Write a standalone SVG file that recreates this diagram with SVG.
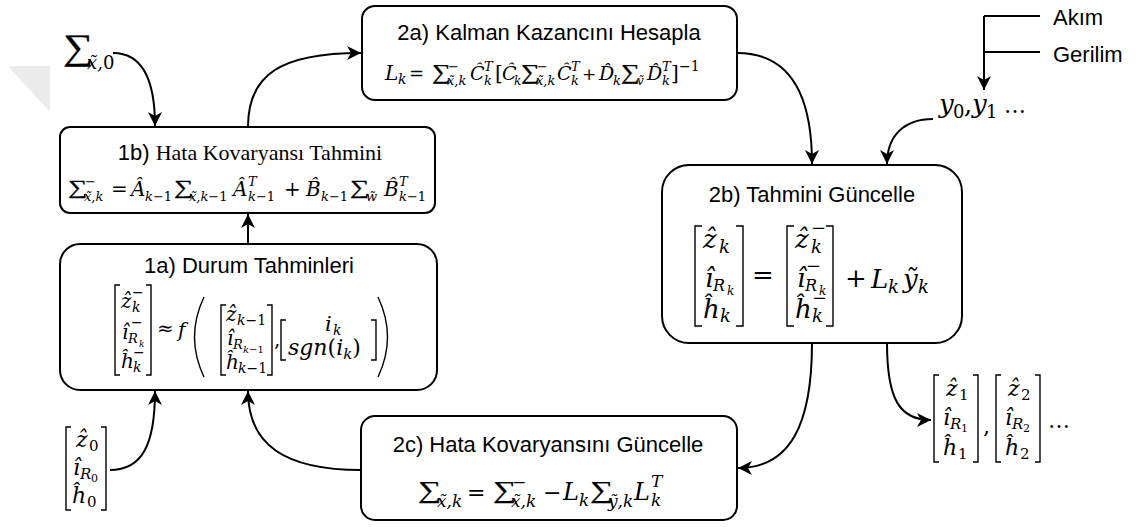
<svg xmlns="http://www.w3.org/2000/svg" width="1141" height="527" viewBox="0 0 1141 527">
<style>
.box{fill:#fff;stroke:#000;stroke-width:2}
.h{font-family:"Liberation Sans",Arial,sans-serif;font-size:22px;fill:#000}
.hs{font-family:"Liberation Serif","Times New Roman",serif}
.m{font-family:"DejaVu Serif",serif;font-style:italic;fill:#000}
.u{font-style:normal}
.sg{font-family:"Liberation Serif",serif;fill:#000;stroke:#000;stroke-width:0.3}
.br{fill:none;stroke:#000;stroke-width:1.4}
.c{fill:none;stroke:#000;stroke-width:2}
.ca{fill:none;stroke:#000;stroke-width:2;marker-end:url(#a)}
</style>
<defs>
<marker id="a" viewBox="-15 -8 16 16" refX="0" refY="0" markerWidth="16" markerHeight="16" markerUnits="userSpaceOnUse" orient="auto"><path d="M0,0 L-14,-7 L-10,0 L-14,7 Z" fill="#000"/></marker>
</defs>
<rect width="1141" height="527" fill="#fff"/>
<polygon points="8,66 50,66 50,112" fill="#ebebeb"/>

<g id="connectors">
<path class="ca" d="M113,53 C142,53 155,80 155,126"/>
<path class="ca" d="M248,127 C248,75 280,53 361,53"/>
<path class="ca" d="M737,53 C790,53 812,95 812,164"/>
<path class="ca" d="M933,119 C905,119 887,135 887,164"/>
<path class="ca" d="M984,16 L984,90"/>
<path class="c" d="M984,16 H1040 M984,52 H1040"/>
<path class="ca" d="M248,244 V214"/>
<path class="ca" d="M110,470 C142,470 155,445 155,391"/>
<path class="ca" d="M361,470 C285,470 248,445 248,391"/>
<path class="ca" d="M812,343 C812,425 790,468 738,468"/>
<path class="ca" d="M887,343 C887,400 900,420 931,420"/>
</g>

<g id="sigma0">
<text class="sg" transform="translate(63,58.5) scale(1.18,1)" font-size="36">∑</text>
<text class="m" x="87" y="69" font-size="18">x̃,<tspan class="u">0</tspan></text>
</g>

<g id="node1b">
<rect class="box" x="60" y="127" width="375" height="86" rx="10"/>
<text class="h" x="250" y="160" text-anchor="middle">1b) <tspan class="hs">Hata Kovaryansı Tahmini</tspan></text>
<text class="sg" transform="translate(68,193.5) scale(1.35,1)" font-size="20">∑</text>
<text class="sg" transform="translate(174,193.5) scale(1.35,1)" font-size="20">∑</text>
<text class="sg" transform="translate(350,193.5) scale(1.35,1)" font-size="20">∑</text>
<text class="m" font-size="20">
<tspan class="u" x="85" y="186" font-size="13">−</tspan>
<tspan x="84" y="201" font-size="13">x̃,k</tspan>
<tspan class="u" x="111" y="196">=</tspan>
<tspan x="131" y="196">Â</tspan>
<tspan x="145" y="201" font-size="13">k<tspan class="u">−1</tspan></tspan>
<tspan x="189" y="201" font-size="13">x̃,k<tspan class="u">−1</tspan></tspan>
<tspan x="233" y="196">Â</tspan>
<tspan x="248" y="186" font-size="13">T</tspan>
<tspan x="248" y="201" font-size="13">k<tspan class="u">−1</tspan></tspan>
<tspan class="u" x="284" y="196">+</tspan>
<tspan x="306" y="196">B̂</tspan>
<tspan x="321" y="201" font-size="13">k<tspan class="u">−1</tspan></tspan>
<tspan x="366" y="201" font-size="13">w̃</tspan>
<tspan x="384" y="196">B̂</tspan>
<tspan x="399" y="186" font-size="13">T</tspan>
<tspan x="399" y="201" font-size="13">k<tspan class="u">−1</tspan></tspan>
</text>
</g>

<g id="node2a">
<rect class="box" x="362" y="6" width="375" height="94" rx="13"/>
<text class="h" x="549" y="40" text-anchor="middle">2a) Kalman Kazancını Hesapla</text>
<text class="sg" transform="translate(432,78.5) scale(1.25,1)" font-size="21">∑</text>
<text class="sg" transform="translate(521,78.5) scale(1.25,1)" font-size="21">∑</text>
<text class="sg" transform="translate(621,78.5) scale(1.25,1)" font-size="21">∑</text>
<text class="m" font-size="20">
<tspan x="385" y="80">L</tspan>
<tspan x="398" y="84" font-size="14">k</tspan>
<tspan class="u" x="409" y="80" font-size="18">=</tspan>
<tspan class="u" x="448" y="71" font-size="13">−</tspan>
<tspan x="447" y="85" font-size="13">x̃,k</tspan>
<tspan x="470" y="80" font-size="19">Ĉ</tspan>
<tspan x="484" y="71" font-size="13">T</tspan>
<tspan x="484" y="85" font-size="13">k</tspan>
<tspan class="u" x="495" y="80">[</tspan>
<tspan x="502" y="80" font-size="19">Ĉ</tspan>
<tspan x="514" y="85" font-size="12">k</tspan>
<tspan class="u" x="537" y="71" font-size="13">−</tspan>
<tspan x="536" y="85" font-size="13">x̃,k</tspan>
<tspan x="557" y="80" font-size="19">Ĉ</tspan>
<tspan x="571" y="71" font-size="13">T</tspan>
<tspan x="571" y="85" font-size="13">k</tspan>
<tspan class="u" x="582" y="80" font-size="17">+</tspan>
<tspan x="599" y="80" font-size="19">D̂</tspan>
<tspan x="613" y="85" font-size="13">k</tspan>
<tspan x="637" y="85" font-size="12">ṽ</tspan>
<tspan x="647" y="80" font-size="19">D̂</tspan>
<tspan x="662" y="71" font-size="13">T</tspan>
<tspan x="662" y="85" font-size="13">k</tspan>
<tspan class="u" x="671" y="80">]</tspan>
<tspan class="u" x="679" y="71" font-size="14">−1</tspan>
</text>
</g>

<g id="node1a">
<rect class="box" x="60" y="244" width="377" height="146" rx="20"/>
<text class="h" x="249" y="273" text-anchor="middle">1a) Durum Tahminleri</text>
<path class="br" d="M120,285 H115 V375 H120 M146,285 H151 V375 H146"/>
<path class="br" d="M226,305 H221 V375 H226 M267,305 H272 V375 H267"/>
<path class="br" d="M286,320 H281 V360 H286 M371,320 H376 V360 H371"/>
<path class="br" stroke-width="1.8" d="M204,297 Q185,337 204,377 M378,297 Q397,337 378,377"/>
<text class="m" font-size="20">
<tspan x="121" y="308">ẑ</tspan>
<tspan class="u" x="132" y="297" font-size="14">−</tspan>
<tspan x="132" y="312" font-size="14">k</tspan>
<tspan x="122" y="339">î</tspan>
<tspan class="u" x="131" y="327" font-size="14">−</tspan>
<tspan x="128" y="343" font-size="13">R</tspan>
<tspan x="139" y="347" font-size="9">k</tspan>
<tspan x="121" y="368">ĥ</tspan>
<tspan class="u" x="133" y="357" font-size="14">−</tspan>
<tspan x="133" y="372" font-size="14">k</tspan>
<tspan class="u" x="157" y="335">≈</tspan>
<tspan x="178" y="337">f</tspan>
<tspan x="226" y="321">ẑ</tspan>
<tspan x="237" y="325" font-size="14">k<tspan class="u">−1</tspan></tspan>
<tspan x="227" y="345">î</tspan>
<tspan x="233" y="349" font-size="13">R</tspan>
<tspan x="243" y="353" font-size="10">k<tspan class="u">−1</tspan></tspan>
<tspan x="226" y="369">ĥ</tspan>
<tspan x="238" y="373" font-size="14">k<tspan class="u">−1</tspan></tspan>
<tspan class="u" x="274" y="346">,</tspan>
<tspan x="325" y="331" font-size="21">i</tspan>
<tspan x="333" y="335" font-size="14">k</tspan>
<tspan x="288" y="355" font-size="22">sgn<tspan class="u">(</tspan>i<tspan font-size="15" dy="4">k</tspan><tspan class="u" dy="-4">)</tspan></tspan>
</text>
</g>

<g id="node2b">
<rect class="box" x="662" y="165" width="300" height="178" rx="27"/>
<text class="h" x="812" y="202" text-anchor="middle">2b) Tahmini Güncelle</text>
<path class="br" stroke-width="1.6" d="M702,226 H695 V326 H702 M736,226 H743 V326 H736"/>
<path class="br" stroke-width="1.6" d="M794,226 H787 V326 H794 M826,226 H833 V326 H826"/>
<text class="m" font-size="26">
<tspan x="703" y="248">ẑ</tspan>
<tspan x="719" y="253" font-size="18">k</tspan>
<tspan x="705" y="287">î</tspan>
<tspan x="713" y="291" font-size="16">R</tspan>
<tspan x="727" y="295" font-size="12">k</tspan>
<tspan x="703" y="318">ĥ</tspan>
<tspan x="720" y="322" font-size="18">k</tspan>
<tspan class="u" x="752" y="284">=</tspan>
<tspan x="795" y="248">ẑ</tspan>
<tspan class="u" x="811" y="234" font-size="18">−</tspan>
<tspan x="811" y="253" font-size="18">k</tspan>
<tspan x="797" y="287">î</tspan>
<tspan class="u" x="806" y="272" font-size="18">−</tspan>
<tspan x="805" y="291" font-size="16">R</tspan>
<tspan x="819" y="295" font-size="12">k</tspan>
<tspan x="795" y="318">ĥ</tspan>
<tspan class="u" x="812" y="304" font-size="18">−</tspan>
<tspan x="812" y="322" font-size="18">k</tspan>
<tspan class="u" x="845" y="287">+</tspan>
<tspan x="871" y="288">L</tspan>
<tspan x="888" y="293" font-size="18">k</tspan>
<tspan x="903" y="288">ỹ</tspan>
<tspan x="918" y="293" font-size="18">k</tspan>
</text>
</g>

<g id="node2c">
<rect class="box" x="361" y="416" width="376" height="104" rx="14"/>
<text class="h" x="548" y="452" text-anchor="middle">2c) Hata Kovaryansını Güncelle</text>
<text class="sg" transform="translate(418,498) scale(1.36,1)" font-size="24">∑</text>
<text class="sg" transform="translate(493,498) scale(1.36,1)" font-size="24">∑</text>
<text class="sg" transform="translate(590,498) scale(1.36,1)" font-size="24">∑</text>
<text class="m" font-size="24">
<tspan x="437" y="507" font-size="17">x̃,k</tspan>
<tspan class="u" x="467" y="500" font-size="22">=</tspan>
<tspan class="u" x="512" y="488" font-size="17">−</tspan>
<tspan x="511" y="507" font-size="17">x̃,k</tspan>
<tspan class="u" x="543" y="500" font-size="22">−</tspan>
<tspan x="563" y="500">L</tspan>
<tspan x="579" y="506" font-size="17">k</tspan>
<tspan x="608" y="507" font-size="17">ỹ,k</tspan>
<tspan x="634" y="500">L</tspan>
<tspan x="651" y="487" font-size="17">T</tspan>
<tspan x="651" y="506" font-size="17">k</tspan>
</text>
</g>

<g id="init">
<path class="br" stroke-width="1.5" d="M71,427 H66 V510 H71 M101,427 H106 V510 H101"/>
<text class="m" font-size="22">
<tspan x="76" y="447">ẑ</tspan>
<tspan class="u" x="89" y="451" font-size="15">0</tspan>
<tspan x="73" y="475">î</tspan>
<tspan x="80" y="479" font-size="15">R</tspan>
<tspan class="u" x="91" y="482" font-size="11">0</tspan>
<tspan x="72" y="503">ĥ</tspan>
<tspan class="u" x="87" y="507" font-size="15">0</tspan>
</text>
</g>

<g id="outputs">
<path class="br" stroke-width="1.5" d="M939,375 H934 V462 H939 M973,375 H978 V462 H973"/>
<path class="br" stroke-width="1.5" d="M1001,375 H996 V462 H1001 M1035,375 H1040 V462 H1035"/>
<text class="m" font-size="22">
<tspan x="946" y="396">ẑ</tspan>
<tspan class="u" x="959" y="400" font-size="15">1</tspan>
<tspan x="943" y="425">î</tspan>
<tspan x="950" y="429" font-size="15">R</tspan>
<tspan class="u" x="961" y="432" font-size="11">1</tspan>
<tspan x="943" y="455">ĥ</tspan>
<tspan class="u" x="958" y="459" font-size="15">1</tspan>
<tspan class="u" x="983" y="434">,</tspan>
<tspan x="1008" y="396">ẑ</tspan>
<tspan class="u" x="1021" y="400" font-size="15">2</tspan>
<tspan x="1005" y="425">î</tspan>
<tspan x="1012" y="429" font-size="15">R</tspan>
<tspan class="u" x="1023" y="432" font-size="11">2</tspan>
<tspan x="1005" y="455">ĥ</tspan>
<tspan class="u" x="1020" y="459" font-size="15">2</tspan>
<tspan class="u" x="1048" y="428">…</tspan>
</text>
</g>

<g id="measurements">
<text class="m" font-size="26"><tspan x="939" y="113">y</tspan><tspan class="u" x="953" y="118" font-size="18">0</tspan><tspan class="u" x="964" y="113">,</tspan><tspan x="972" y="113">y</tspan><tspan class="u" x="986" y="118" font-size="18">1</tspan><tspan class="u" x="1004" y="113" font-size="22">…</tspan></text>
</g>

<g id="legend">
<text class="h" x="1053" y="25" font-size="21">Akım</text>
<text class="h" x="1053" y="62" font-size="21">Gerilim</text>
</g>
</svg>
